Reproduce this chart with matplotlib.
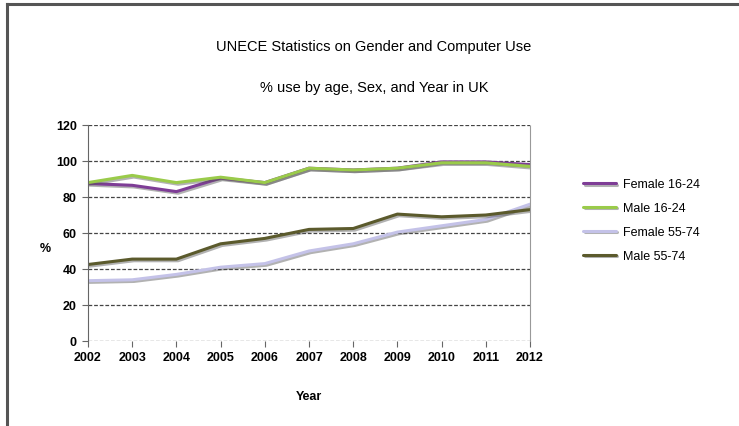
import matplotlib
matplotlib.use("Agg")
import matplotlib.pyplot as plt
import matplotlib.patheffects as pe
from matplotlib.lines import Line2D

plt.rcParams['font.family'] = ['Liberation Sans', 'DejaVu Sans']

years = [2002, 2003, 2004, 2005, 2006, 2007, 2008, 2009, 2010, 2011, 2012]
female_16_24 = [87.5, 86.5, 83, 90.5, 88, 96, 95, 96, 99.5, 99.5, 98]
male_16_24 = [88, 92, 88, 91, 88, 96, 95, 96, 99, 99, 97]
female_55_74 = [33.5, 34, 37, 41, 43, 50, 54, 60.5, 64, 67.5, 76]
male_55_74 = [42.5, 45.5, 45.5, 54, 57, 62, 62.5, 70.5, 69, 70, 73]

series_names = ["Female 16-24", "Male 16-24", "Female 55-74", "Male 55-74"]
series_vals = [female_16_24, male_16_24, female_55_74, male_55_74]
colors = ["#7e3d96", "#9acb4a", "#c4c2e8", "#5b5a2c"]
yticks = [0, 20, 40, 60, 80, 100, 120]

fig = plt.figure(figsize=(7.39, 4.27), dpi=100)
fig.patch.set_facecolor("white")

# outer frame (top and left lines)
fig.add_artist(Line2D([7/739, 1], [1 - 5/427, 1 - 5/427], color="#555555", lw=2.2,
                      transform=fig.transFigure))
fig.add_artist(Line2D([7/739, 7/739], [0, 1 - 5/427], color="#555555", lw=2.2,
                      transform=fig.transFigure))

ax = fig.add_axes([88/739, 1 - 342/427, (530 - 88)/739, (342 - 126)/427])

shadow = [pe.SimpleLineShadow(offset=(1.2, -1.2), shadow_color="#555555", alpha=0.45), pe.Normal()]
for name, vals, c in zip(series_names, series_vals, colors):
    ax.plot(years, vals, color=c, lw=2.2, label=name, path_effects=shadow,
            solid_capstyle="round", solid_joinstyle="round")

ax.set_xlim(years[0], years[-1])
ax.set_ylim(0, 120)
ax.set_xticks(years)
ax.set_xticklabels([str(y) for y in years], fontsize=9, fontweight="bold")
ax.set_yticks(yticks)
ax.set_yticklabels([str(v) for v in yticks], fontsize=9, fontweight="bold")
ax.yaxis.grid(True, linestyle=(0, (3, 1.5)), color="#444444", lw=0.9)
ax.set_axisbelow(True)
for s in ["top", "bottom"]:
    ax.spines[s].set_visible(False)
ax.spines["left"].set_color("#666666")
ax.spines["right"].set_color("#999999")
ax.spines["right"].set_linestyle((0, (2, 1)))
ax.tick_params(axis="x", direction="out", length=4, color="#666666", pad=3)
ax.tick_params(axis="y", direction="out", length=4, color="#666666", pad=4)

ax.set_xlabel("Year", fontsize=9, fontweight="bold", labelpad=20)
ax.set_ylabel("%", fontsize=9, fontweight="bold", rotation=0, va="center", ha="center")
ax.yaxis.set_label_coords(-0.097, 0.43)

fig.text(374/739, 1 - 47/427, "UNECE Statistics on Gender and Computer Use", ha="center",
         va="center", fontsize=10.5)
fig.text(374/739, 1 - 88/427, "% use by age, Sex, and Year in UK", ha="center",
         va="center", fontsize=10.5)

ax.legend(loc="upper left", bbox_to_anchor=(572/739, 1 - 168/427),
          bbox_transform=fig.transFigure, frameon=False, fontsize=9,
          handlelength=2.6, labelspacing=0.95, handletextpad=0.6)

fig.savefig("out.png", dpi=100, facecolor="white")
